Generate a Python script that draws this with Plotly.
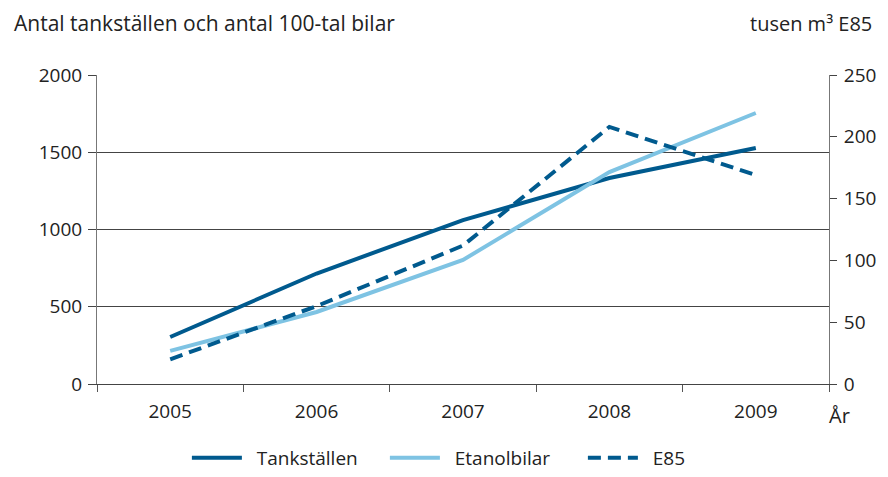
import plotly.graph_objects as go

years = ["2005", "2006", "2007", "2008", "2009"]
tankstallen = [304, 715, 1061, 1333, 1527]
etanolbilar = [214, 466, 803, 1372, 1754]
e85 = [20, 63, 112, 208, 169]

left_ticks = [0, 500, 1000, 1500, 2000]
right_ticks = [0, 50, 100, 150, 200, 250]

series_names = ["Tankställen", "Etanolbilar", "E85"]

DARK = "#005a8e"
LIGHT = "#7ec3e3"
FONT = "Open Sans"
TXT = "#222"
PAD = "\u00a0\u00a0"

fig = go.Figure()
fig.add_trace(go.Scatter(x=years, y=tankstallen, name=PAD + series_names[0], mode="lines",
                         line=dict(color=DARK, width=4)))
fig.add_trace(go.Scatter(x=years, y=etanolbilar, name=PAD + series_names[1], mode="lines",
                         line=dict(color=LIGHT, width=4)))
fig.add_trace(go.Scatter(x=years, y=e85, name=PAD + series_names[2], mode="lines", yaxis="y2",
                         line=dict(color=DARK, width=4, dash="13px,7px")))

# page body has an 8px margin, so the figure is 880x469 offset by 8px
fig.update_layout(
    width=880, height=469,
    margin=dict(l=89, r=50, t=67, b=93),
    plot_bgcolor="white", paper_bgcolor="white",
    font=dict(family=FONT, size=19, color=TXT),
    showlegend=True,
    legend=dict(orientation="h", x=0.1228, xanchor="left", yref="container",
                y=0.0, yanchor="bottom", entrywidth=133, entrywidthmode="pixels",
                font=dict(size=19, color=TXT), itemwidth=50, tracegroupgap=0),
    xaxis=dict(type="category", range=[-0.5, 4.5], tickson="boundaries",
               ticks="outside", ticklen=7, tickcolor="#555", showgrid=False,
               showline=True, linecolor="#444", linewidth=1,
               tickfont=dict(size=19), ticklabelstandoff=10),
    yaxis=dict(range=[0, 2000], tickvals=left_ticks, ticks="outside", ticklen=8,
               tickcolor="#444", showgrid=True, gridcolor="#444", gridwidth=1,
               showline=True, linecolor="#777", linewidth=1, zeroline=False,
               tickfont=dict(size=19), ticklabelstandoff=2),
    yaxis2=dict(range=[0, 250], tickvals=right_ticks, overlaying="y", side="right",
                ticks="outside", ticklen=7, tickcolor="#444", showgrid=False,
                showline=True, linecolor="#777", linewidth=1, zeroline=False,
                tickfont=dict(size=19), ticklabelstandoff=3),
    annotations=[
        dict(text="Antal tankställen och antal 100-tal bilar", xref="paper", yref="paper",
             x=0, xshift=-85, y=1.0, yshift=52, xanchor="left", yanchor="middle",
             showarrow=False, font=dict(size=21, color=TXT)),
        dict(text="tusen m³ E85", xref="paper", yref="paper",
             x=1.0, xshift=45, y=1.0, yshift=52, xanchor="right", yanchor="middle",
             showarrow=False, font=dict(size=20, color=TXT)),
        dict(text="År", xref="paper", yref="paper", x=1.0, xshift=10, y=0, yshift=-31,
             xanchor="center", yanchor="middle", showarrow=False,
             font=dict(size=20, color=TXT)),
    ],
)

fig.write_html("out.html")
